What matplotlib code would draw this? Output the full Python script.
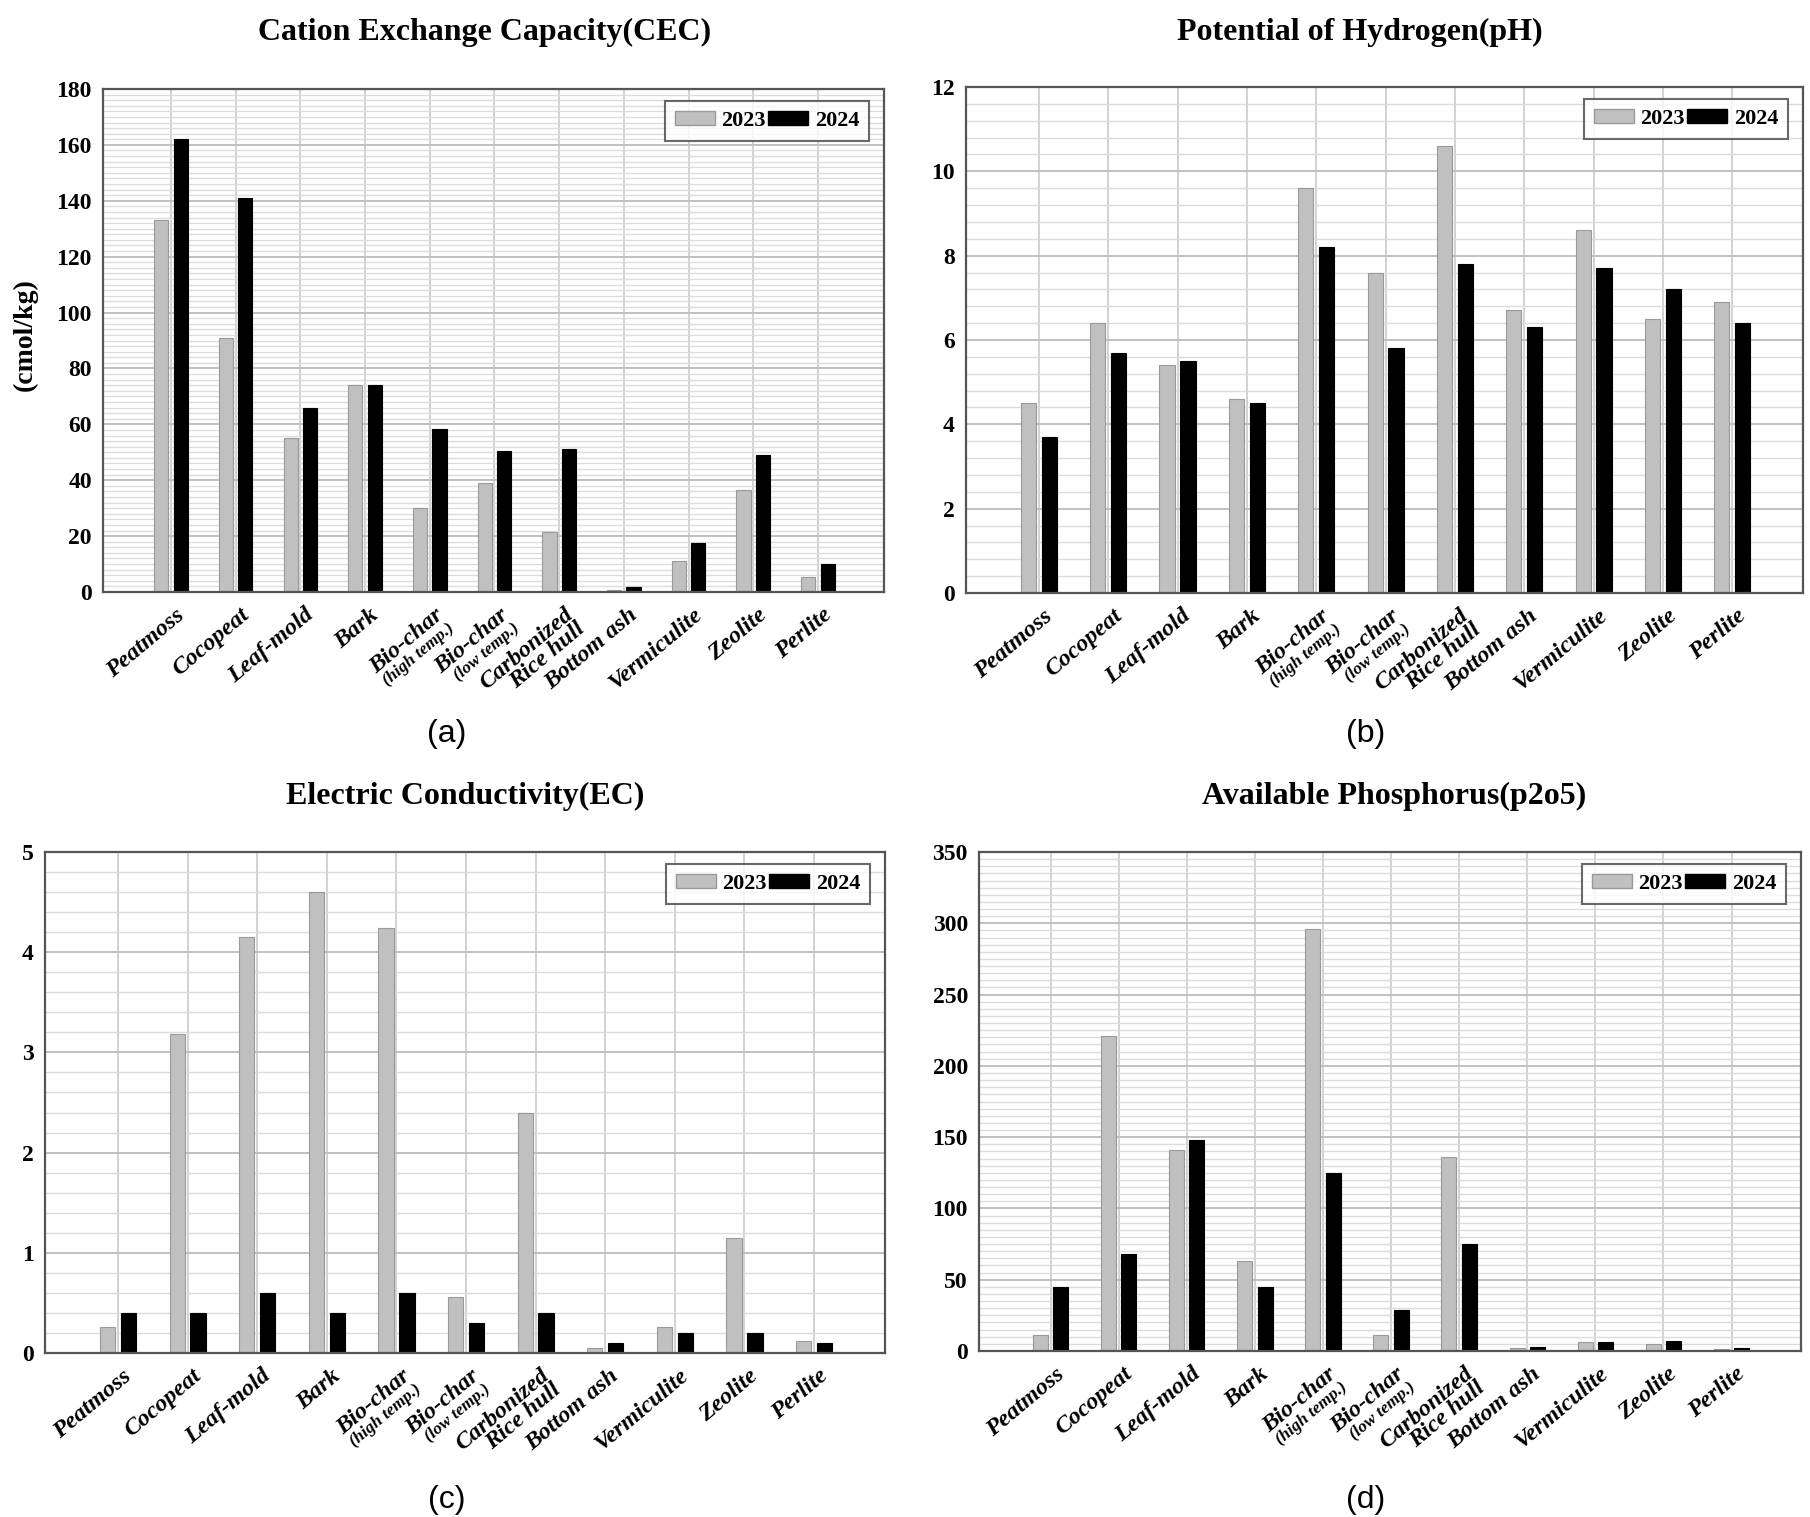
import numpy as np
import matplotlib
matplotlib.use("Agg")
import matplotlib.pyplot as plt
from matplotlib.patches import Patch
from matplotlib.ticker import MultipleLocator

# categories (second line of a label drawn smaller where given)
materials = ["Peatmoss", "Cocopeat", "Leaf-mold", "Bark", "Bio-char", "Bio-char",
             "Carbonized\nRice hull", "Bottom ash", "Vermiculite", "Zeolite", "Perlite"]
sublabels = ["", "", "", "", "(high temp.)", "(low temp.)", "", "", "", "", ""]
years = ["2023", "2024"]

# values
cec_2023 = [133, 91, 55, 74, 30, 39, 21.5, 0.8, 11, 36.5, 5.5]
cec_2024 = [162, 141, 66, 74, 58.5, 50.5, 51, 1.7, 17.5, 49, 10]
ph_2023 = [4.5, 6.4, 5.4, 4.6, 9.6, 7.6, 10.6, 6.7, 8.6, 6.5, 6.9]
ph_2024 = [3.7, 5.7, 5.5, 4.5, 8.2, 5.8, 7.8, 6.3, 7.7, 7.2, 6.4]
ec_2023 = [0.26, 3.18, 4.15, 4.6, 4.24, 0.56, 2.4, 0.05, 0.26, 1.15, 0.12]
ec_2024 = [0.4, 0.4, 0.6, 0.4, 0.6, 0.3, 0.4, 0.1, 0.2, 0.2, 0.1]
p_2023 = [11, 221, 141, 63, 296, 11, 136, 2, 6, 5, 1.5]
p_2024 = [45, 68, 148, 45, 125, 29, 75, 3, 6, 7, 2]

W, H = 1810, 1517
SERIF = "Liberation Serif"
GRAY = "#c0c0c0"

panels = [
    # title, 2023, 2024, ymax, major, minor, ylabel, box(px l,t,r,b), title xy(px), letter, letter xy(px)
    ("Cation Exchange Capacity(CEC)", cec_2023, cec_2024, 180, 20, 2, "(cmol/kg)",
     (103, 89, 884, 592), (485, 32), "(a)", (447, 734)),
    ("Potential of Hydrogen(pH)", ph_2023, ph_2024, 12, 2, 0.4, None,
     (966, 87, 1803, 593), (1360, 32), "(b)", (1366, 734)),
    ("Electric Conductivity(EC)", ec_2023, ec_2024, 5, 1, 0.2, None,
     (45, 852, 885, 1353), (465, 796), "(c)", (447, 1500)),
    ("Available Phosphorus(p2o5)", p_2023, p_2024, 350, 50, 5, None,
     (979, 852, 1801, 1351), (1394, 796), "(d)", (1366, 1500)),
]

fig = plt.figure(figsize=(W / 100, H / 100), dpi=100)

x = np.arange(len(materials))
bw = 0.22
off = 0.15
rot = 40
th = np.deg2rad(rot)

for title, v23, v24, ymax, major, minor, ylabel, box, txy, letter, lxy in panels:
    l, t, r, b = box
    ax = fig.add_axes([l / W, 1 - b / H, (r - l) / W, (b - t) / H])
    ax.set_axisbelow(True)

    ax.bar(x - off, v23, bw, color=GRAY, edgecolor="#9a9a9a", linewidth=0.8, label=years[0])
    ax.bar(x + off, v24, bw, color="black", edgecolor="black", linewidth=0.8, label=years[1])

    ax.set_xlim(-1.05, 11.02)
    ax.set_ylim(0, ymax)
    ax.set_xticks(x)
    ax.set_xticklabels([])
    ax.yaxis.set_major_locator(MultipleLocator(major))
    ax.yaxis.set_minor_locator(MultipleLocator(minor))
    ax.grid(axis="x", color="#cfcfcf", linewidth=1.3)
    ax.grid(axis="y", which="major", color="#c0c0c0", linewidth=1.4)
    ax.grid(axis="y", which="minor", color="#dcdcdc", linewidth=1.0)
    ax.tick_params(which="both", length=0)
    ax.tick_params(axis="y", pad=8)
    for lab in ax.get_yticklabels():
        lab.set_fontfamily(SERIF)
        lab.set_fontweight("bold")
        lab.set_fontsize(17)
    for s in ax.spines.values():
        s.set_color("#555555")
        s.set_linewidth(1.6)

    # rotated category labels
    for i, (name, sub) in enumerate(zip(materials, sublabels)):
        ax.annotate(name, xy=(i, 0), xycoords=("data", "axes fraction"),
                    xytext=(3, -9), textcoords="offset points",
                    rotation=rot, rotation_mode="anchor", ha="right", va="top",
                    fontfamily=SERIF, fontweight="bold", fontstyle="italic", fontsize=17.5,
                    linespacing=0.85)
        if sub:
            d = 15
            ax.annotate(sub, xy=(i, 0), xycoords=("data", "axes fraction"),
                        xytext=(3 + d * np.sin(th), -9 - d * np.cos(th)),
                        textcoords="offset points",
                        rotation=rot, rotation_mode="anchor", ha="right", va="top",
                        fontfamily=SERIF, fontweight="bold", fontstyle="italic", fontsize=12.5)

    if ylabel:
        fig.text(25 / W, 1 - 335 / H, ylabel, rotation=90, ha="center", va="center",
                 fontfamily=SERIF, fontweight="bold", fontsize=20)

    handles = [Patch(facecolor=GRAY, edgecolor="#9a9a9a"), Patch(facecolor="black", edgecolor="black")]
    leg = ax.legend(handles, years, loc="upper right", ncol=2,
                    bbox_to_anchor=(1 - 15 / (r - l), 1 - 12 / (b - t)), borderaxespad=0,
                    prop={"family": SERIF, "weight": "bold", "size": 16},
                    handlelength=1.8, handleheight=0.6, handletextpad=0.3, columnspacing=0.1,
                    fancybox=False, frameon=True, borderpad=0.45)
    leg.get_frame().set_edgecolor("#444444")
    leg.get_frame().set_linewidth(1.5)

    fig.text(txy[0] / W, 1 - txy[1] / H, title, ha="center", va="center",
             fontfamily=SERIF, fontweight="bold", fontsize=23)
    fig.text(lxy[0] / W, 1 - lxy[1] / H, letter, ha="center", va="center",
             fontfamily="Liberation Sans", fontsize=23)

fig.savefig("out.png", dpi=100)
